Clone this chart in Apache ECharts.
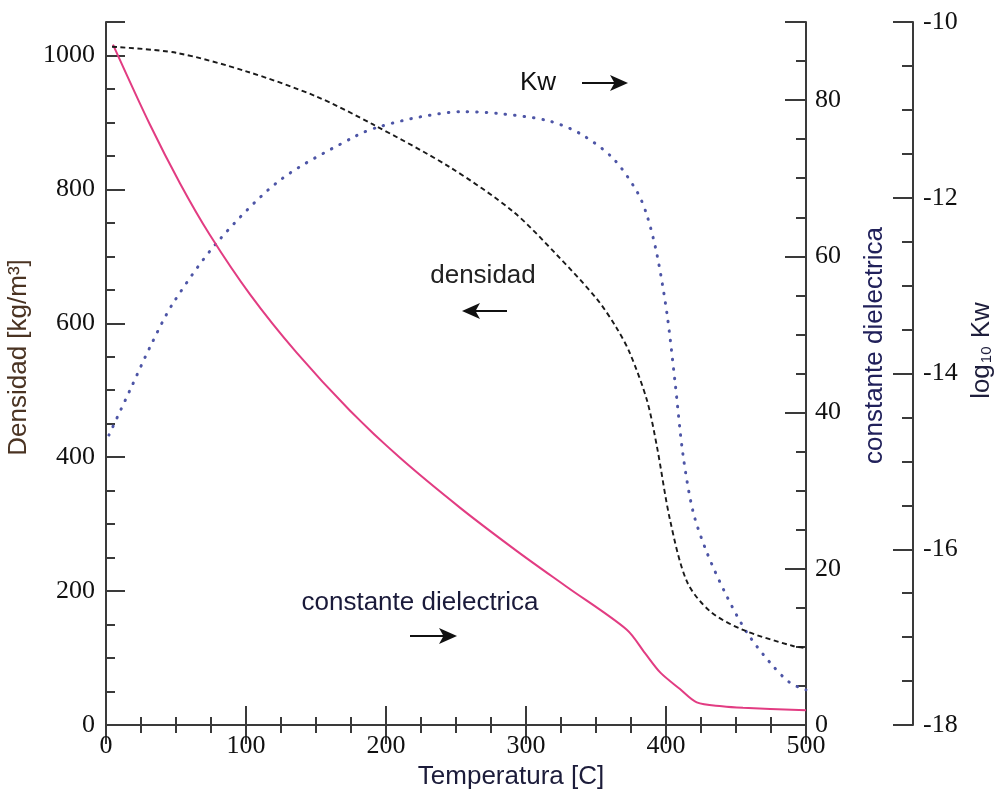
<!DOCTYPE html>
<html>
<head>
<meta charset="utf-8">
<title>Agua: densidad, constante dielectrica y Kw</title>
<script src="https://cdn.jsdelivr.net/npm/echarts@6/dist/echarts.min.js"></script>
<style>
  html, body { margin: 0; padding: 0; background: #ffffff; }
  #chart { width: 996px; height: 791px; }
</style>
</head>
<body>
<div id="chart"></div>
<script>
// Density of water [kg/m3] versus temperature [C]
const temperaturaDensidad = [4.3, 50, 100.7, 150, 190.7, 245.7, 290.7, 322.1, 350.7, 365, 374.3, 386.4, 393.6, 402.9, 415, 431.4, 455, 490.7, 500];
const densidad = [1013, 1004, 976, 939, 897, 833, 767, 702, 636, 592, 555, 485, 415, 306, 214, 170, 142, 118, 115];

// Dielectric constant versus temperature [C]
const temperaturaConstante = [5, 31, 53, 74, 103, 136, 174, 210, 253, 294, 329, 372, 385, 396, 410, 422, 440, 455, 500];
const constanteDielectrica = [87.1, 77.0, 69.3, 62.8, 55.1, 47.7, 40.3, 34.2, 27.8, 22.2, 17.7, 12.2, 9.2, 6.7, 4.6, 2.9, 2.4, 2.2, 1.9];

// Ionic product, log10 Kw, versus temperature [C]
const temperaturaKw = [2.1, 17.1, 31.4, 47.9, 79.3, 124.3, 179.3, 195.7, 224.3, 255, 279.3, 315, 338.6, 362.1, 379.3, 386.4, 393.6, 400.7, 406.4, 412.1, 419.3, 429.3, 443.6, 457.9, 474.3, 488.6, 500];
const log10Kw = [-14.70, -14.19, -13.70, -13.20, -12.51, -11.80, -11.29, -11.19, -11.08, -11.02, -11.04, -11.12, -11.27, -11.55, -11.93, -12.20, -12.65, -13.32, -14.09, -14.92, -15.57, -16.04, -16.54, -16.95, -17.29, -17.52, -17.60];

// Tick labels of each axis
const ticksTemperatura = [0, 100, 200, 300, 400, 500];
const ticksDensidad = [0, 200, 400, 600, 800, 1000];
const ticksConstante = [0, 20, 40, 60, 80];
const ticksKw = [-18, -16, -14, -12, -10];

const zip = (xs, ys) => xs.map((x, i) => [x, ys[i]]);

const AXIS_COLOR = '#3a3a3a';
const SERIF = 'Liberation Serif';
const SANS = 'Liberation Sans';

const labelStyle = {
  fontFamily: SERIF,
  fontSize: 26,
  color: '#111111'
};

function onlyTicks(list) {
  return v => (list.indexOf(Math.round(v * 1000) / 1000) >= 0 ? String(v) : '');
}

const chart = echarts.init(document.getElementById('chart'), null, { renderer: 'canvas' });

const option = {
  backgroundColor: '#ffffff',
  animation: false,
  grid: { left: 106, right: 190, top: 22, bottom: 66, containLabel: false, outerBoundsMode: 'none' },
  xAxis: [
    {
      type: 'value',
      position: 'bottom',
      min: ticksTemperatura[0],
      max: ticksTemperatura[ticksTemperatura.length - 1],
      interval: 100,
      name: 'Temperatura [C]',
      nameLocation: 'middle',
      nameGap: 30,
      nameTextStyle: { fontFamily: SANS, fontSize: 26, color: '#1c1c3a', padding: [0, 0, 0, 110] },
      axisLine: { show: true, lineStyle: { color: AXIS_COLOR, width: 2 } },
      axisTick: { show: true, inside: true, length: 19, lineStyle: { color: AXIS_COLOR, width: 2 } },
      minorTick: { show: true, splitNumber: 4, length: 8, lineStyle: { color: AXIS_COLOR, width: 2 } },
      axisLabel: Object.assign({ margin: 8, formatter: onlyTicks(ticksTemperatura) }, labelStyle),
      splitLine: { show: false }
    },
    {
      type: 'value',
      position: 'top',
      min: ticksTemperatura[0],
      max: ticksTemperatura[ticksTemperatura.length - 1],
      interval: 100,
      axisLine: { show: true, lineStyle: { color: AXIS_COLOR, width: 2 } },
      axisTick: { show: true, inside: true, length: 19, lineStyle: { color: AXIS_COLOR, width: 2 } },
      minorTick: { show: true, splitNumber: 4, length: 8, lineStyle: { color: AXIS_COLOR, width: 2 } },
      axisLabel: { show: false },
      splitLine: { show: false }
    }
  ],
  yAxis: [
    {
      // density, major ticks and labels
      type: 'value',
      position: 'left',
      min: 0,
      max: 1050,
      interval: 200,
      name: 'Densidad [kg/m³]',
      nameLocation: 'middle',
      nameGap: 64,
      nameTextStyle: { fontFamily: SANS, fontSize: 26, color: '#4a3322', padding: [0, 0, 0, 32] },
      axisLine: { show: true, lineStyle: { color: AXIS_COLOR, width: 2 } },
      axisTick: { show: true, inside: true, length: 19, lineStyle: { color: AXIS_COLOR, width: 2 } },
      axisLabel: Object.assign({ margin: 11, formatter: onlyTicks(ticksDensidad) }, labelStyle),
      splitLine: { show: false }
    },
    {
      // density, minor ticks every 50
      type: 'value',
      position: 'left',
      min: 0,
      max: 1050,
      interval: 50,
      axisLine: { show: false },
      axisTick: { show: true, inside: true, length: 9, lineStyle: { color: AXIS_COLOR, width: 2 } },
      axisLabel: { show: false },
      splitLine: { show: false }
    },
    {
      // dielectric constant, major ticks and labels
      type: 'value',
      position: 'right',
      min: 0,
      max: 90,
      interval: 20,
      name: 'constante dielectrica',
      nameLocation: 'middle',
      nameGap: 56,
      nameTextStyle: { fontFamily: SANS, fontSize: 26, color: '#20205a', padding: [0, 0, 0, 56] },
      axisLine: { show: true, lineStyle: { color: AXIS_COLOR, width: 2 } },
      axisTick: { show: true, inside: true, length: 21, lineStyle: { color: AXIS_COLOR, width: 2 } },
      axisLabel: Object.assign({ margin: 9, formatter: onlyTicks(ticksConstante) }, labelStyle),
      splitLine: { show: false }
    },
    {
      // dielectric constant, minor ticks every 5
      type: 'value',
      position: 'right',
      min: 0,
      max: 90,
      interval: 5,
      axisLine: { show: false },
      axisTick: { show: true, inside: true, length: 10, lineStyle: { color: AXIS_COLOR, width: 2 } },
      axisLabel: { show: false },
      splitLine: { show: false }
    },
    {
      // log10 Kw, detached axis on the far right
      type: 'value',
      position: 'right',
      offset: 107,
      min: ticksKw[0],
      max: ticksKw[ticksKw.length - 1],
      interval: 2,
      name: '{a|log}{b|10}{a| Kw}',
      nameLocation: 'middle',
      nameGap: 55,
      nameTextStyle: {
        color: '#1e1e3c',
        padding: [0, 0, 0, 46],
        rich: {
          a: { fontFamily: SANS, fontSize: 26, color: '#1e1e3c' },
          b: { fontFamily: SANS, fontSize: 15, color: '#1e1e3c', verticalAlign: 'bottom', padding: [0, 1, 0, 1] }
        }
      },
      axisLine: { show: true, lineStyle: { color: AXIS_COLOR, width: 2 } },
      axisTick: { show: true, inside: true, length: 20, lineStyle: { color: AXIS_COLOR, width: 2 } },
      minorTick: { show: true, splitNumber: 4, length: 11, lineStyle: { color: AXIS_COLOR, width: 2 } },
      axisLabel: Object.assign({ margin: 10, formatter: onlyTicks(ticksKw) }, labelStyle),
      splitLine: { show: false }
    }
  ],
  series: [
    {
      name: 'constante dielectrica',
      type: 'line',
      xAxisIndex: 0,
      yAxisIndex: 2,
      data: zip(temperaturaConstante, constanteDielectrica),
      showSymbol: false,
      smooth: 0.3,
      lineStyle: { color: '#e23c82', width: 2 },
      z: 3
    },
    {
      name: 'densidad',
      type: 'line',
      xAxisIndex: 0,
      yAxisIndex: 0,
      data: zip(temperaturaDensidad, densidad),
      showSymbol: false,
      smooth: 0.3,
      lineStyle: { color: '#1a1a1a', width: 1.9, type: [5, 3.5] },
      z: 4
    },
    {
      name: 'Kw',
      type: 'line',
      xAxisIndex: 0,
      yAxisIndex: 4,
      data: zip(temperaturaKw, log10Kw),
      showSymbol: false,
      smooth: 0.3,
      lineStyle: { color: '#4d55a6', width: 3, type: [0.5, 9], cap: 'round' },
      z: 2
    }
  ],
  graphic: []
};

chart.setOption(option);

// Curve captions with arrows pointing to the axis each curve uses
function arrow(xTail, xTip, y) {
  const dir = xTip > xTail ? 1 : -1;
  const headLen = 18;
  const halfW = 8;
  return {
    type: 'group',
    silent: true,
    children: [
      {
        type: 'line',
        shape: { x1: xTail, y1: y, x2: xTip - dir * headLen * 0.6, y2: y },
        style: { stroke: '#111111', lineWidth: 2.2 }
      },
      {
        type: 'polygon',
        shape: { points: [[xTip, y], [xTip - dir * headLen, y - halfW], [xTip - dir * headLen * 0.75, y], [xTip - dir * headLen, y + halfW]] },
        style: { fill: '#111111' }
      }
    ]
  };
}

function caption(text, x, y, color) {
  return {
    type: 'text',
    silent: true,
    style: {
      text: text, x: x, y: y,
      font: '26px "Liberation Sans"',
      fill: color,
      textAlign: 'center',
      textVerticalAlign: 'middle'
    }
  };
}

chart.setOption({
  graphic: [
    caption('Kw', 538, 83, '#111111'),
    arrow(582, 628, 83),
    caption('densidad', 483, 276, '#222222'),
    arrow(507, 462, 311),
    caption('constante dielectrica', 420, 603, '#1a1a3a'),
    arrow(410, 457, 636)
  ]
});
</script>
</body>
</html>
